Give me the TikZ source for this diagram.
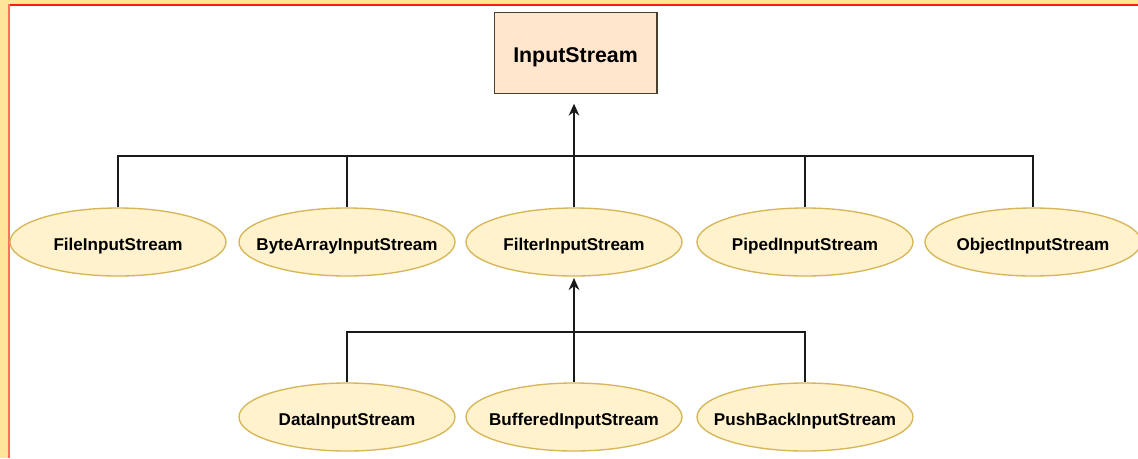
\documentclass[tikz,border=0pt]{standalone}
\usepackage{fontspec}
\setmainfont{Liberation Sans}
\usetikzlibrary{shapes.geometric,arrows.meta}
\definecolor{boxfill}{HTML}{FFE6CC}
\definecolor{boxline}{HTML}{4A4030}
\definecolor{ellfill}{HTML}{FFF2CC}
\definecolor{ellline}{HTML}{D6B656}
\definecolor{bandyel}{HTML}{FFE599}
\definecolor{bandred}{HTML}{FF1A1A}
\definecolor{bandredl}{HTML}{FF6F5F}
\definecolor{wire}{HTML}{1A1A1A}
\newcommand{\cname}[1]{\raisebox{-6pt}[0pt][0pt]{\makebox[0pt]{#1}}}
\newcommand{\rname}[1]{\raisebox{-7pt}[0pt][0pt]{\makebox[0pt]{#1}}}
\tikzset{
  cls/.style={draw=ellline, fill=ellfill, ellipse, line width=1pt, inner sep=0pt,
    minimum width=162pt, minimum height=51pt, font=\bfseries\fontsize{12.8pt}{14pt}\selectfont},
  root/.style={draw=boxline, fill=boxfill, rectangle, line width=1pt, inner sep=0pt,
    minimum width=122pt, minimum height=61pt, font=\bfseries\fontsize{16pt}{18pt}\selectfont},
  wirestyle/.style={draw=wire, line width=1.1pt},
  inherit/.style={wirestyle, -{Stealth[length=9pt,width=8pt]}}
}
\begin{document}
\begin{tikzpicture}[x=0.75pt,y=-0.75pt]
\useasboundingbox (0,0) rectangle (1138,458);
\fill[white] (0,0) rectangle (1138,458);
% page frame bands
\fill[bandyel] (0,0) rectangle (1138,4);
\fill[bandyel] (0,0) rectangle (8,458);
\fill[bandred] (8,4) rectangle (1138,6);
\fill[bandredl] (8,4) rectangle (10,458);
% nodes
\node[root] (is) at (575.5,53) {\rname{InputStream}};
\node[cls] (fis) at (118,242) {\cname{FileInputStream}};
\node[cls] (bais) at (347,242) {\cname{ByteArrayInputStream}};
\node[cls] (fil) at (574,242) {\cname{FilterInputStream}};
\node[cls] (pis) at (805,242) {\cname{PipedInputStream}};
\node[cls] (ois) at (1033,242) {\cname{ObjectInputStream}};
\node[cls] (dis) at (347,417) {\cname{DataInputStream}};
\node[cls] (bis) at (574,417) {\cname{BufferedInputStream}};
\node[cls] (pbis) at (805,417) {\cname{PushBackInputStream}};
% bus coordinates
\coordinate (bus1) at (574,156);
\coordinate (bus2) at (574,332);
% upper level connectors
\draw[wirestyle] (fis.north) |- (bus1) -| (ois.north);
\draw[wirestyle] (bais.north) -- (bais.north |- bus1);
\draw[wirestyle] (pis.north) -- (pis.north |- bus1);
\draw[inherit, shorten >=7pt] (fil.north) -- (fil.north |- is.south);
% lower level connectors
\draw[wirestyle] (dis.north) |- (bus2) -| (pbis.north);
\draw[inherit, shorten >=1pt] (bis.north) -- (fil.south);
\end{tikzpicture}
\end{document}
